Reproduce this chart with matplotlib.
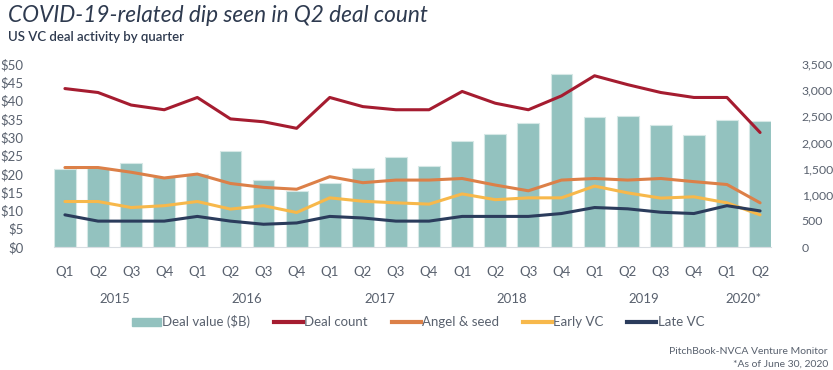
import matplotlib.pyplot as plt
from matplotlib.ticker import FuncFormatter
from matplotlib.lines import Line2D
from matplotlib.patches import Patch

plt.rcParams['font.family'] = ['Lato', 'DejaVu Sans']

quarters = ["Q1", "Q2", "Q3", "Q4"] * 5 + ["Q1", "Q2"]
years = ["2015", "2016", "2017", "2018", "2019", "2020*"]

deal_value = [21.3, 21.5, 22.9, 19.0, 19.9, 26.3, 18.3, 15.4, 17.5, 21.7, 24.6, 22.1,
              28.9, 31.0, 33.8, 47.4, 35.5, 35.8, 33.3, 30.5, 34.6, 34.3]
deal_count = [3030, 2955, 2715, 2625, 2860, 2450, 2395, 2270, 2860, 2685, 2625, 2625,
              2975, 2750, 2625, 2890, 3275, 3105, 2955, 2860, 2860, 2190]
angel_seed = [1520, 1520, 1430, 1320, 1395, 1215, 1140, 1105, 1345, 1230, 1280, 1280,
              1310, 1185, 1075, 1280, 1310, 1280, 1310, 1250, 1195, 845]
early_vc = [870, 870, 755, 790, 870, 725, 790, 660, 940, 875, 845, 820,
            1015, 905, 940, 940, 1165, 1035, 935, 960, 845, 615]
late_vc = [615, 495, 495, 495, 585, 495, 435, 460, 585, 555, 495, 495,
           585, 585, 585, 640, 755, 730, 665, 640, 790, 690]

c_bar = "#93c2bf"
c_count = "#a51c30"
c_angel = "#dc8048"
c_early = "#f7b84b"
c_late = "#2b3c5c"
c_text = "#59616e"

W, H = 833, 370
fig = plt.figure(figsize=(W / 100, H / 100), dpi=100)
ax = fig.add_axes([54 / W, 1 - 247 / H, (771 - 54) / W, (247 - 64) / H])
ax2 = ax.twinx()

x = list(range(len(deal_value)))
ax.bar(x, deal_value, width=0.66, color=c_bar, edgecolor="#d6e8e6", linewidth=0.8, zorder=1)
ax2.plot(x, deal_count, color=c_count, lw=2.2, solid_capstyle="round")
ax2.plot(x, angel_seed, color=c_angel, lw=2.2, solid_capstyle="round")
ax2.plot(x, early_vc, color=c_early, lw=2.2, solid_capstyle="round")
ax2.plot(x, late_vc, color=c_late, lw=2.2, solid_capstyle="round")

ax.set_xlim(-0.33, len(x) - 0.67)
ax.set_ylim(0, 50)
ax2.set_ylim(0, 3500)
ax.set_yticks(range(0, 51, 5))
ax2.set_yticks(range(0, 3501, 500))
ax.yaxis.set_major_formatter(FuncFormatter(lambda v, p: f"${v:.0f}"))
ax2.yaxis.set_major_formatter(FuncFormatter(lambda v, p: f"{v:,.0f}"))
ax.set_xticks(x)
ax.set_xticklabels(quarters)

for a in (ax, ax2):
    for s in a.spines.values():
        s.set_visible(False)
    a.tick_params(length=0, labelsize=9.5, colors=c_text)
ax.spines["bottom"].set_visible(True)
ax.spines["bottom"].set_color("#d9dde2")
ax.tick_params(axis="y", pad=22)
ax2.tick_params(axis="y", pad=22, labelsize=8.8)
ax.tick_params(axis="x", pad=14)

# year labels under the quarters
for i, yr in enumerate(years):
    xc = i * 4 + 1.5 if i < 5 else 20.5
    ax.text(xc, -0.285, yr, transform=ax.get_xaxis_transform(), ha="center",
            va="center", fontsize=9.5, color=c_text)

handles = [Patch(color=c_bar, label="Deal value ($B)"),
           Line2D([], [], color=c_count, lw=3, label="Deal count"),
           Line2D([], [], color=c_angel, lw=3, label="Angel & seed"),
           Line2D([], [], color=c_early, lw=3, label="Early VC"),
           Line2D([], [], color=c_late, lw=3, label="Late VC")]
fig.legend(handles=handles, loc="center", bbox_to_anchor=(418 / W, 1 - 322 / H), ncol=5,
           frameon=False, fontsize=9.5, labelcolor=c_text, handlelength=2.2,
           handletextpad=0.1, columnspacing=1.8, handleheight=0.6)

fig.text(8 / W, 1 - 16 / H, "COVID-19-related dip seen in Q2 deal count", fontsize=16.3,
         style="italic", color="#2e3a4f", va="center", ha="left")
fig.text(8 / W, 1 - 37 / H, "US VC deal activity by quarter", fontsize=9.5,
         fontweight="semibold", color="#2e3a4f", va="center", ha="left")
fig.text(828 / W, 1 - 351 / H, "PitchBook-NVCA Venture Monitor", fontsize=7.5,
         color=c_text, ha="right", va="center")
fig.text(828 / W, 1 - 364 / H, "*As of June 30, 2020", fontsize=7.5,
         color=c_text, ha="right", va="center")

fig.savefig("out.png", dpi=100)
